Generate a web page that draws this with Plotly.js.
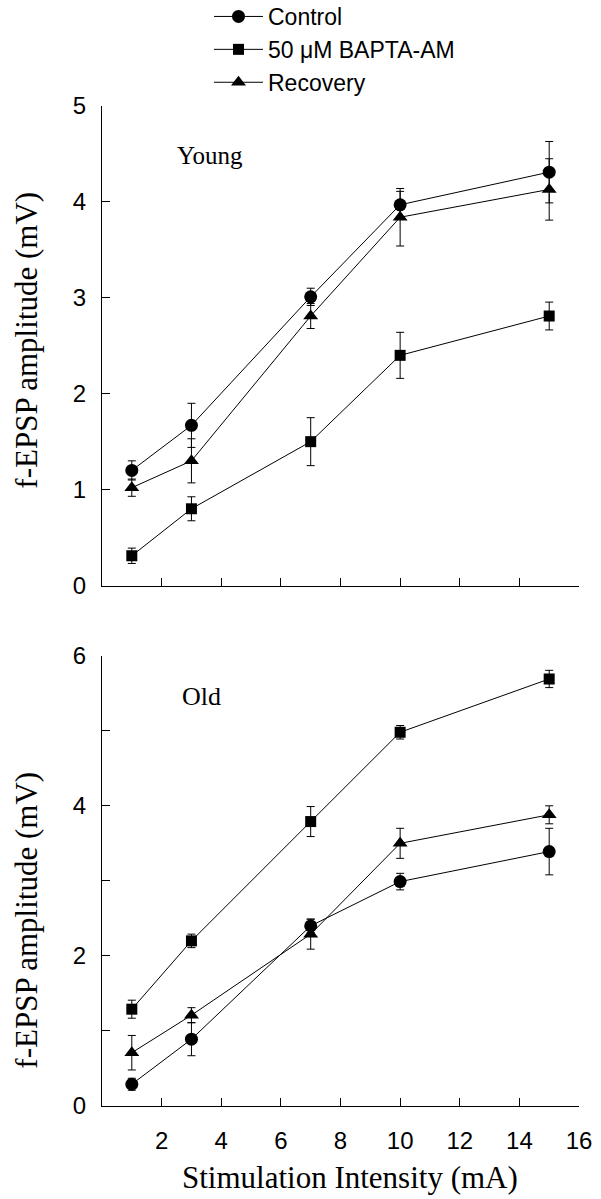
<!DOCTYPE html>
<html>
<head>
<meta charset="utf-8">
<script src="https://cdn.plot.ly/plotly-3.0.1.min.js"></script>
<style>html,body{margin:0;padding:0;background:#fff;}#chart{width:601px;height:1199px;}</style>
</head>
<body>
<div id="chart"></div>
<script>
// Stimulation intensity (mA)
const intensity = [1, 3, 7, 10, 15];
const seriesNames = ["Control", "50 \u03bcM BAPTA-AM", "Recovery"];

// Young panel (mV)
const youngControl = [1.20, 1.67, 3.01, 3.97, 4.31];
const youngControlErr = [0.10, 0.23, 0.09, 0.14, 0.32];
const youngBapta = [0.31, 0.80, 1.50, 2.40, 2.81];
const youngBaptaErr = [0.08, 0.125, 0.25, 0.24, 0.145];
const youngRecovery = [1.02, 1.30, 2.81, 3.84, 4.13];
const youngRecoveryErr = [0.09, 0.23, 0.13, 0.30, 0.32];

// Old panel (mV)
const oldControl = [0.29, 0.89, 2.40, 2.99, 3.39];
const oldControlErr = [0.08, 0.22, 0.09, 0.11, 0.31];
const oldBapta = [1.29, 2.20, 3.79, 4.98, 5.69];
const oldBaptaErr = [0.12, 0.09, 0.20, 0.09, 0.115];
const oldRecovery = [0.71, 1.21, 2.29, 3.50, 3.88];
const oldRecoveryErr = [0.23, 0.10, 0.20, 0.20, 0.12];

const xTicks = [2, 4, 6, 8, 10, 12, 14, 16];
const yTicksTop = [0, 1, 2, 3, 4, 5];
const yTicksBottom = [0, 1, 2, 3, 4, 5, 6];
const yTickTextBottom = ["0", "", "2", "", "4", "", "6"];

const symbols = ["circle", "square", "triangle-up"];
const sizes = [13, 11, 13];

function mk(name, y, err, idx, xa, ya, showleg) {
  return {
    type: "scatter", mode: "lines+markers", name: name,
    x: intensity, y: y, xaxis: xa, yaxis: ya, showlegend: showleg,
    line: {color: "#000", width: 1},
    marker: {symbol: symbols[idx], size: sizes[idx], color: "#000"},
    error_y: {type: "data", array: err, visible: true, color: "#000", thickness: 1, width: 4}
  };
}

const data = [
  mk(seriesNames[0], youngControl, youngControlErr, 0, "x", "y", true),
  mk(seriesNames[1], youngBapta, youngBaptaErr, 1, "x", "y", true),
  mk(seriesNames[2], youngRecovery, youngRecoveryErr, 2, "x", "y", true),
  mk(seriesNames[0], oldControl, oldControlErr, 0, "x2", "y2", false),
  mk(seriesNames[1], oldBapta, oldBaptaErr, 1, "x2", "y2", false),
  mk(seriesNames[2], oldRecovery, oldRecoveryErr, 2, "x2", "y2", false)
];

const tickFont = {family: "Liberation Sans, Arial, sans-serif", size: 24, color: "#000"};
const serif = "Liberation Serif, Times New Roman, serif";

function xax(anchor, labels) {
  return {
    anchor: anchor, domain: [0, 1], range: [0, 16], tickmode: "array", tickvals: xTicks,
    showticklabels: labels, ticks: "inside", ticklen: 8, tickcolor: "#000", tickwidth: 1,
    showline: true, linecolor: "#000", linewidth: 1, showgrid: false, zeroline: false,
    tickfont: tickFont, ticklabelstandoff: 13, tickangle: 0, automargin: false
  };
}
function yax(anchor, domain, range, vals, text) {
  return {
    anchor: anchor, domain: domain, range: range, tickmode: "array", tickvals: vals, ticktext: text,
    ticks: "inside", ticklen: 8, tickcolor: "#000", tickwidth: 1,
    showline: true, linecolor: "#000", linewidth: 1, showgrid: false, zeroline: false,
    tickfont: tickFont, ticklabelstandoff: 10, automargin: false
  };
}

const layout = {
  width: 601, height: 1199,
  margin: {l: 102, r: 22, t: 106, b: 93, autoexpand: false},
  paper_bgcolor: "#fff", plot_bgcolor: "#fff",
  showlegend: true,
  legend: {
    xref: "paper", yref: "paper", x: 0.2243, y: 1.111, xanchor: "left", yanchor: "top",
    font: {family: "Liberation Sans, Arial, sans-serif", size: 23, color: "#000"},
    bgcolor: "rgba(0,0,0,0)", itemwidth: 49, tracegroupgap: 0
  },
  xaxis: xax("y", false),
  yaxis: yax("x", [0.5205, 1], [0, 5], yTicksTop, yTicksTop.map(String)),
  xaxis2: xax("y2", true),
  yaxis2: yax("x2", [0, 0.4503], [0, 6], yTicksBottom, yTickTextBottom),
  annotations: [
    {text: "Young", xref: "x", yref: "y", x: 2.45, y: 4.48, xanchor: "left", yanchor: "middle",
     showarrow: false, font: {family: serif, size: 25, color: "#000"}},
    {text: "Old", xref: "x2", yref: "y2", x: 2.62, y: 5.45, xanchor: "left", yanchor: "middle",
     showarrow: false, font: {family: serif, size: 26, color: "#000"}},
    {text: "f-EPSP amplitude (mV)", xref: "paper", yref: "paper", x: -0.16, y: 0.766,
     xanchor: "center", yanchor: "middle", textangle: -90, showarrow: false,
     font: {family: serif, size: 31, color: "#000"}},
    {text: "f-EPSP amplitude (mV)", xref: "paper", yref: "paper", x: -0.16, y: 0.186,
     xanchor: "center", yanchor: "middle", textangle: -90, showarrow: false,
     font: {family: serif, size: 31, color: "#000"}},
    {text: "Stimulation Intensity (mA)", xref: "paper", yref: "paper", x: 0.52, y: -0.071,
     xanchor: "center", yanchor: "middle", showarrow: false,
     font: {family: serif, size: 31, color: "#000"}}
  ]
};

Plotly.newPlot("chart", data, layout, {staticPlot: true, displayModeBar: false});
</script>
</body>
</html>
